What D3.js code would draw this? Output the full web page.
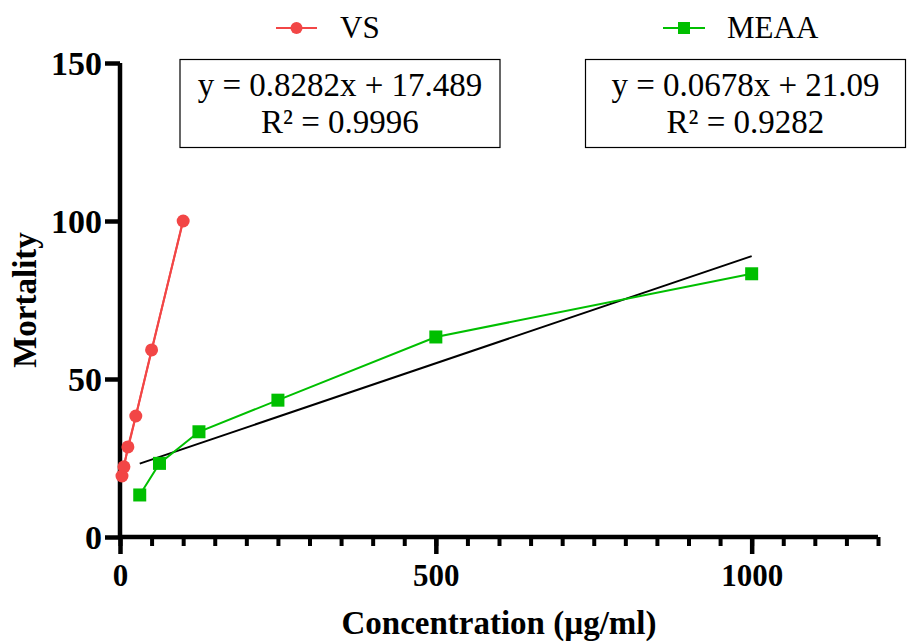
<!DOCTYPE html>
<html>
<head>
<meta charset="utf-8">
<script src="https://cdn.jsdelivr.net/npm/d3@7"></script>
<style>
  body { margin: 0; background: #fff; }
  text { font-family: "Liberation Serif", "Times New Roman", serif; }
</style>
</head>
<body>
<svg id="chart" width="913" height="643"></svg>
<script>
// concentrations (µg/ml) and mortality
const vsConc = [3.125, 6.25, 12.5, 25, 50, 100];
const vsMort = [19.3, 22.2, 28.5, 38.3, 59.2, 100];
const meaaConc = [31.25, 62.5, 125, 250, 500, 1000];
const meaaMort = [13.3, 23.3, 33.3, 43.3, 63.3, 83.3];

// linear fits as printed on the chart
const vsFit = { slope: 0.8282, intercept: 17.489, r2: "0.9996" };
const meaaFit = { slope: 0.0678, intercept: 21.09, r2: "0.9282" };

const xTicks = [0, 500, 1000];
const yTicks = [0, 50, 100, 150];

const red = "#f24646", green = "#00bf00";

const svg = d3.select("#chart");

// scales
const x = d3.scaleLinear().domain([0, 1200]).range([120, 878]);
const y = d3.scaleLinear().domain([0, 150]).range([537, 63]);

// y axis
const yAxis = svg.append("g")
    .attr("transform", `translate(${x(0)},0)`)
    .call(d3.axisLeft(y).tickValues(yTicks).tickSize(15).tickPadding(3).tickSizeOuter(0));
yAxis.select(".domain").attr("stroke-width", 4.5).attr("d", `M0,${y(150)}V${y(0)}`);
yAxis.selectAll(".tick line").attr("stroke-width", 4.5);
yAxis.selectAll(".tick text")
    .style("font-family", "Liberation Serif")
    .style("font-weight", "bold")
    .style("font-size", "34px")
    .attr("dy", "0.34em");

// x axis: minor ticks every 50, major every 500
const xAxisMinor = svg.append("g")
    .attr("transform", `translate(0,${y(0)})`)
    .call(d3.axisBottom(x).tickValues(d3.range(0, 1201, 50)).tickSize(9).tickFormat("").tickSizeOuter(0));
xAxisMinor.select(".domain").remove();
xAxisMinor.selectAll(".tick line").attr("stroke-width", 4);

const xAxis = svg.append("g")
    .attr("transform", `translate(0,${y(0)})`)
    .call(d3.axisBottom(x).tickValues(xTicks).tickFormat(d3.format("d"))
        .tickSize(17).tickPadding(10).tickSizeOuter(0));
xAxis.select(".domain").attr("stroke-width", 4.5).attr("d", `M${x(0)},0H${x(1200)}`);
xAxis.selectAll(".tick line").attr("stroke-width", 4.5);
xAxis.selectAll(".tick text")
    .style("font-family", "Liberation Serif")
    .style("font-weight", "bold")
    .style("font-size", "31px");

// axis titles
svg.append("text")
    .attr("x", 499).attr("y", 634)
    .attr("text-anchor", "middle")
    .style("font-weight", "bold").style("font-size", "33px")
    .text("Concentration (µg/ml)");

svg.append("text")
    .attr("transform", `translate(36,300) rotate(-90)`)
    .attr("text-anchor", "middle")
    .style("font-weight", "bold").style("font-size", "33px")
    .text("Mortality");

// fit lines (VS fit sits under its own line)
const fitLine = d3.line().x(d => x(d[0])).y(d => y(d[1]));
[[vsConc, vsFit, red], [meaaConc, meaaFit, "#000"]].forEach(([xs, f, col]) => {
    const ends = d3.extent(xs).map(v => [v, f.slope * v + f.intercept]);
    svg.append("path")
        .attr("d", fitLine(ends))
        .attr("fill", "none")
        .attr("stroke", col)
        .attr("stroke-width", 2);
});

// data lines + markers
const vsData = vsConc.map((c, i) => [c, vsMort[i]]);
const meaaData = meaaConc.map((c, i) => [c, meaaMort[i]]);

svg.append("path").attr("d", fitLine(vsData))
    .attr("fill", "none").attr("stroke", red).attr("stroke-width", 2);
svg.append("path").attr("d", fitLine(meaaData))
    .attr("fill", "none").attr("stroke", green).attr("stroke-width", 2);

svg.selectAll(".vs-dot").data(vsData).enter()
    .append("circle")
    .attr("class", "vs-dot")
    .attr("cx", d => x(d[0])).attr("cy", d => y(d[1]))
    .attr("r", 6.5).attr("fill", red);

svg.selectAll(".meaa-dot").data(meaaData).enter()
    .append("rect")
    .attr("class", "meaa-dot")
    .attr("x", d => x(d[0]) - 6.5).attr("y", d => y(d[1]) - 6.5)
    .attr("width", 13).attr("height", 13).attr("fill", green);

// equation boxes
function eqBox(left, f) {
    const g = svg.append("g");
    g.append("rect")
        .attr("x", left).attr("y", 59.5).attr("width", 320).attr("height", 88)
        .attr("fill", "#fff").attr("stroke", "#000").attr("stroke-width", 1.2);
    g.append("text")
        .attr("x", left + 160).attr("y", 96).attr("text-anchor", "middle")
        .style("font-size", "33px")
        .text(`y = ${f.slope}x + ${f.intercept}`);
    g.append("text")
        .attr("x", left + 160).attr("y", 133).attr("text-anchor", "middle")
        .style("font-size", "33px")
        .text(`R² = ${f.r2}`);
}
eqBox(180, vsFit);
eqBox(585.5, meaaFit);

// legend
const legend = svg.append("g");
legend.append("line").attr("x1", 276).attr("x2", 317).attr("y1", 28).attr("y2", 28)
    .attr("stroke", red).attr("stroke-width", 2);
legend.append("circle").attr("cx", 296.5).attr("cy", 28).attr("r", 6).attr("fill", red);
legend.append("text").attr("x", 340).attr("y", 38).style("font-size", "31px").text("VS");

legend.append("line").attr("x1", 663).attr("x2", 705).attr("y1", 28).attr("y2", 28)
    .attr("stroke", green).attr("stroke-width", 2);
legend.append("rect").attr("x", 678).attr("y", 22).attr("width", 12).attr("height", 12).attr("fill", green);
legend.append("text").attr("x", 727).attr("y", 38).style("font-size", "31px").text("MEAA");
</script>
</body>
</html>
